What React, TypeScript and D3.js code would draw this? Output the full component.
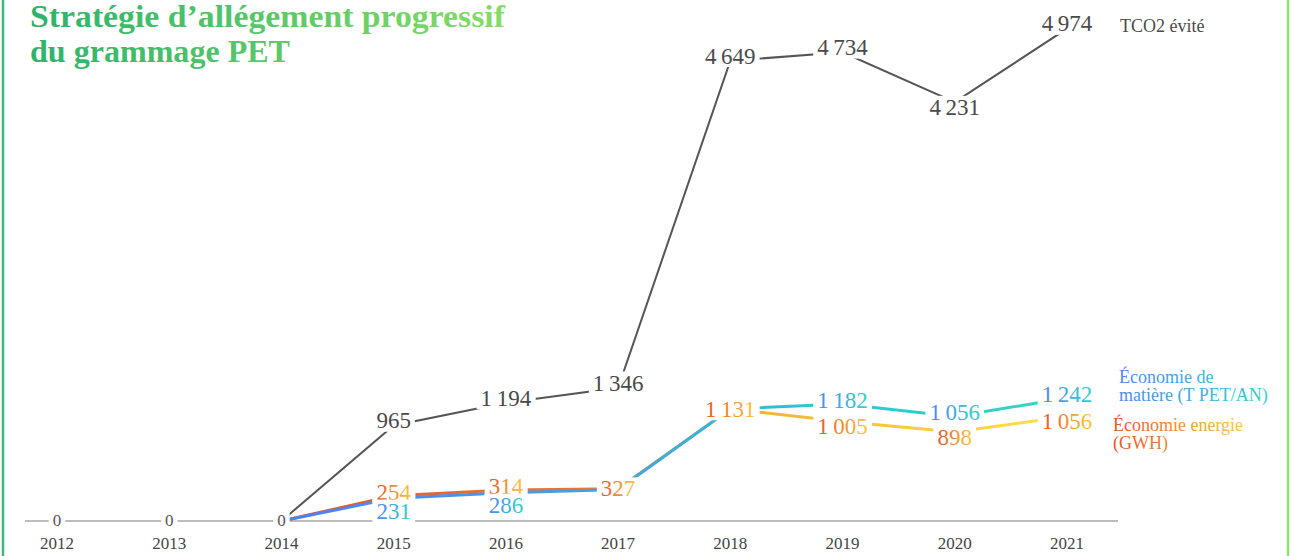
import React, { useEffect, useRef } from 'react';
import * as d3 from 'd3';

const years = [2012, 2013, 2014, 2015, 2016, 2017, 2018, 2019, 2020, 2021];
const tco2 = [0, 0, 0, 965, 1194, 1346, 4649, 4734, 4231, 4974];
const matiere = [0, 0, 0, 231, 286, 318, 1131, 1182, 1056, 1242];
const energie = [0, 0, 0, 254, 314, 327, 1131, 1005, 898, 1056];

const titleLines = ['Stratégie d’allégement progressif', 'du grammage PET'];
const legendTco2 = ['TCO2 évité'];
const legendMatiere = ['Économie de', 'matière (T PET/AN)'];
const legendEnergie = ['Économie energie', '(GWH)'];

const W = 1294;
const H = 556;
const FONT = "'Liberation Serif', 'Times New Roman', serif";

export default function App() {
  const ref = useRef<SVGSVGElement | null>(null);

  useEffect(() => {
    const svg = d3.select(ref.current);
    svg.selectAll('*').remove();

    const x = d3.scalePoint<number>().domain(years).range([57, 1067]);
    const y = d3.scaleLinear().domain([0, 5000]).range([521, 26]);
    const fmt = d3.formatLocale({ decimal: ',', thousands: '\u2009', grouping: [3], currency: ['', '€'] }).format(',d');

    const defs = svg.append('defs');
    const grad = (id: string, stops: [number, string][], user?: [number, number]) => {
      const g = defs.append('linearGradient').attr('id', id);
      if (user) {
        g.attr('gradientUnits', 'userSpaceOnUse').attr('x1', user[0]).attr('x2', user[1]).attr('y1', 0).attr('y2', 0);
      } else {
        g.attr('x1', '0%').attr('x2', '100%').attr('y1', '0%').attr('y2', '0%');
      }
      stops.forEach(([o, c]) => g.append('stop').attr('offset', o).attr('stop-color', c));
    };
    grad('gTitle', [[0, '#2db36a'], [1, '#86dc66']], [30, 505]);
    grad('gBorder', [[0, '#3cb878'], [1, '#8fe36b']], [0, W]);
    grad('gEnergyLine', [[0, '#e4502a'], [0.4, '#ec7a30'], [0.62, '#f5b537'], [1, '#fde24a']], [x(2014)!, x(2021)!]);
    grad('gMatterLine', [[0, '#4f7ff2'], [0.45, '#3ea8e0'], [0.7, '#2ec6d2'], [1, '#2fd8c2']], [x(2014)!, x(2021)!]);
    grad('gEnergyText', [[0, '#e4552c'], [1, '#fcc83e']]);
    grad('gMatterText', [[0, '#4f86f4'], [1, '#33d2c8']]);

    // border
    svg.append('rect').attr('x', 3).attr('y', -10).attr('width', 1285).attr('height', H + 20)
      .attr('fill', 'none').attr('stroke', 'url(#gBorder)').attr('stroke-width', 2.5);

    // title
    const titleWidths = [475, 260];
    titleLines.forEach((t, i) => svg.append('text').attr('font-family', FONT).attr('font-weight', 700)
      .attr('font-size', 31).attr('fill', 'url(#gTitle)')
      .attr('x', 30).attr('y', 27 + i * 35)
      .attr('textLength', titleWidths[i]).attr('lengthAdjust', 'spacingAndGlyphs').text(t));

    // axis baseline
    svg.append('line').attr('x1', 25).attr('x2', 1118).attr('y1', y(0)).attr('y2', y(0))
      .attr('stroke', '#bdbdbd').attr('stroke-width', 2);

    // year labels
    svg.append('g').selectAll('text').data(years).join('text')
      .attr('x', d => x(d)!).attr('y', 549).attr('text-anchor', 'middle')
      .attr('font-family', FONT).attr('font-size', 17).attr('fill', '#444').text(d => d);

    const startIdx = (vals: number[]) => vals.lastIndexOf(0);
    const lineGen = (vals: number[]) => d3.line<number>()
      .x((_, i) => x(years[i + startIdx(vals)])!)
      .y(d => y(d))(vals.slice(startIdx(vals)));

    svg.append('path').attr('d', lineGen(energie)).attr('fill', 'none')
      .attr('stroke', 'url(#gEnergyLine)').attr('stroke-width', 3);
    svg.append('path').attr('d', lineGen(matiere)).attr('fill', 'none')
      .attr('stroke', 'url(#gMatterLine)').attr('stroke-width', 3);
    svg.append('path').attr('d', lineGen(tco2)).attr('fill', 'none')
      .attr('stroke', '#555').attr('stroke-width', 2);

    const labels = svg.append('g');
    const addLabel = (cx: number, cy: number, text: string, fill: string, size: number) => {
      const g = labels.append('g');
      const r = g.append('rect').attr('fill', '#fff');
      const t = g.append('text').attr('x', cx).attr('y', cy).attr('dy', '0.34em')
        .attr('text-anchor', 'middle').attr('font-family', FONT).attr('font-size', size)
        .attr('fill', fill).text(text);
      const bb = (t.node() as SVGTextElement).getBBox();
      r.attr('x', bb.x - 4).attr('width', bb.width + 8)
        .attr('y', cy - 0.36 * size - 3).attr('height', 0.72 * size + 6);
    };

    const S = 23;
    years.forEach((yr, i) => {
      const cx = x(yr)!;
      if (tco2[i] === 0 && matiere[i] === 0 && energie[i] === 0) {
        addLabel(cx, y(0) - 1, '0', '#555', 17);
        return;
      }
      // TCO2: local minimum label below, otherwise above
      const prev = tco2[i - 1], next = tco2[i + 1];
      const isMin = next !== undefined && tco2[i] < prev && tco2[i] < next;
      addLabel(cx, y(tco2[i]) + (isMin ? 5 : -5), fmt(tco2[i]), '#4a4a4a', S);

      const m = matiere[i], e = energie[i];
      const showM = Math.abs(m - e) >= 20;
      if (!showM) {
        addLabel(cx, y(Math.max(m, e)), fmt(e), 'url(#gEnergyText)', S);
        return;
      }
      const upper = m > e ? { v: m, f: 'url(#gMatterText)' } : { v: e, f: 'url(#gEnergyText)' };
      const lower = m > e ? { v: e, f: 'url(#gEnergyText)' } : { v: m, f: 'url(#gMatterText)' };
      const upY = y(upper.v) - 4;
      const loY = Math.max(y(lower.v) + 5, upY + 19);
      addLabel(cx, upY, fmt(upper.v), upper.f, S);
      addLabel(cx, loY, fmt(lower.v), lower.f, S);
    });

    // legends
    const legend = (lines: string[], lx: number, ly: number, fill: string) => {
      const t = svg.append('text').attr('font-family', FONT).attr('font-size', 18).attr('fill', fill);
      lines.forEach((l, i) => t.append('tspan').attr('x', lx).attr('y', ly + i * 18).text(l));
    };
    legend(legendTco2, 1120, 32, '#4a4a4a');
    legend(legendMatiere, 1119, 383, 'url(#gMatterText)');
    legend(legendEnergie, 1113, 431, 'url(#gEnergyText)');
  }, []);

  return (
    <svg ref={ref} width={W} height={H}
      style={{ position: 'absolute', left: 0, top: 0, background: '#fff' }} />
  );
}
